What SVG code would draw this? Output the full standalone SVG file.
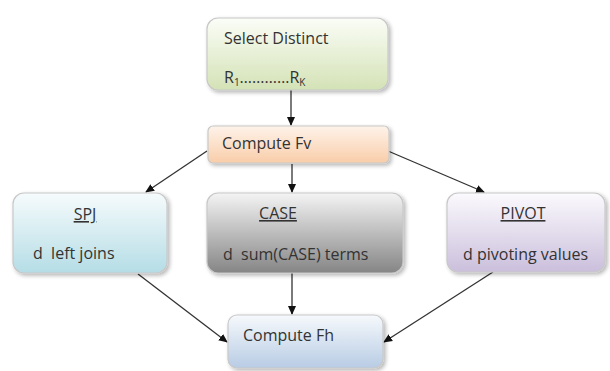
<svg xmlns="http://www.w3.org/2000/svg" width="610" height="371" viewBox="0 0 610 371">
<style>
.box{stroke:#c8c8c8;stroke-width:1.2}
.t{font-family:"Open Sans","Liberation Sans",sans-serif;font-size:16px;fill:#333;white-space:pre}
.u{text-decoration:underline}
.c{stroke:#333;stroke-width:1.3;fill:none;marker-end:url(#ah)}
</style>
<defs>
<marker id="ah" markerWidth="10" markerHeight="10" refX="8" refY="5" orient="auto" markerUnits="userSpaceOnUse">
<path d="M0,1 L9,5 L0,9 z" fill="#111"/>
</marker>
<filter id="sh" x="-10%" y="-10%" width="125%" height="130%">
<feGaussianBlur in="SourceAlpha" stdDeviation="2"/>
<feOffset dx="1.5" dy="2" result="b"/>
<feComponentTransfer><feFuncA type="linear" slope="0.3"/></feComponentTransfer>
<feMerge><feMergeNode/><feMergeNode in="SourceGraphic"/></feMerge>
</filter>
<linearGradient id="gG" x1="0" y1="0" x2="0" y2="1"><stop offset="0" stop-color="#fbfdf7"/><stop offset="1" stop-color="#d4e2b6"/></linearGradient>
<linearGradient id="gO" x1="0" y1="0" x2="0" y2="1"><stop offset="0" stop-color="#fef3ea"/><stop offset="1" stop-color="#f9cda9"/></linearGradient>
<linearGradient id="gC" x1="0" y1="0" x2="0" y2="1"><stop offset="0" stop-color="#f6fbfc"/><stop offset="1" stop-color="#b5dde6"/></linearGradient>
<linearGradient id="gK" x1="0" y1="0" x2="0" y2="1"><stop offset="0" stop-color="#f4f4f4"/><stop offset="1" stop-color="#858585"/></linearGradient>
<linearGradient id="gP" x1="0" y1="0" x2="0" y2="1"><stop offset="0" stop-color="#fbfafd"/><stop offset="1" stop-color="#cbbfdc"/></linearGradient>
<linearGradient id="gB" x1="0" y1="0" x2="0" y2="1"><stop offset="0" stop-color="#f6f9fc"/><stop offset="1" stop-color="#b8cce4"/></linearGradient>
</defs>
<rect width="610" height="371" fill="#fff"/>
<g id="connectors">
<line class="c" x1="291" y1="90" x2="291" y2="125"/>
<line class="c" x1="207" y1="151" x2="146" y2="192"/>
<line class="c" x1="388" y1="151" x2="484" y2="192"/>
<line class="c" x1="292" y1="164" x2="292" y2="192"/>
<line class="c" x1="138" y1="274" x2="227" y2="342"/>
<line class="c" x1="292" y1="273" x2="292" y2="314"/>
<line class="c" x1="493" y1="272" x2="384" y2="342"/>
</g>
<g id="select">
<rect class="box" x="207" y="18" width="181" height="72" rx="11" fill="url(#gG)" filter="url(#sh)"/>
<text class="t" x="224" y="44">Select Distinct</text>
<text class="t" x="224" y="83">R<tspan font-size="10" dy="3">1</tspan><tspan dy="-3">…………</tspan>R<tspan font-size="10" dy="3">K</tspan></text>
</g>
<g id="fv">
<rect class="box" x="208" y="126" width="181" height="37" rx="5" fill="url(#gO)" filter="url(#sh)"/>
<text class="t" x="222" y="149">Compute Fv</text>
</g>
<g id="spj">
<rect class="box" x="13" y="193" width="154" height="80" rx="11" fill="url(#gC)" filter="url(#sh)"/>
<text class="t u" x="85" y="220" text-anchor="middle">SPJ</text>
<text class="t" x="33" y="259">d  left joins</text>
</g>
<g id="case">
<rect class="box" x="207" y="193" width="196" height="80" rx="11" fill="url(#gK)" filter="url(#sh)"/>
<text class="t u" x="278" y="219" text-anchor="middle">CASE</text>
<text class="t" x="223" y="260">d  sum(CASE) terms</text>
</g>
<g id="pivot">
<rect class="box" x="447" y="193" width="158" height="79" rx="11" fill="url(#gP)" filter="url(#sh)"/>
<text class="t u" x="523" y="219" text-anchor="middle">PIVOT</text>
<text class="t" x="463" y="260">d pivoting values</text>
</g>
<g id="fh">
<rect class="box" x="228" y="315" width="155" height="53" rx="9" fill="url(#gB)" filter="url(#sh)"/>
<text class="t" x="243" y="341">Compute Fh</text>
</g>
</svg>
